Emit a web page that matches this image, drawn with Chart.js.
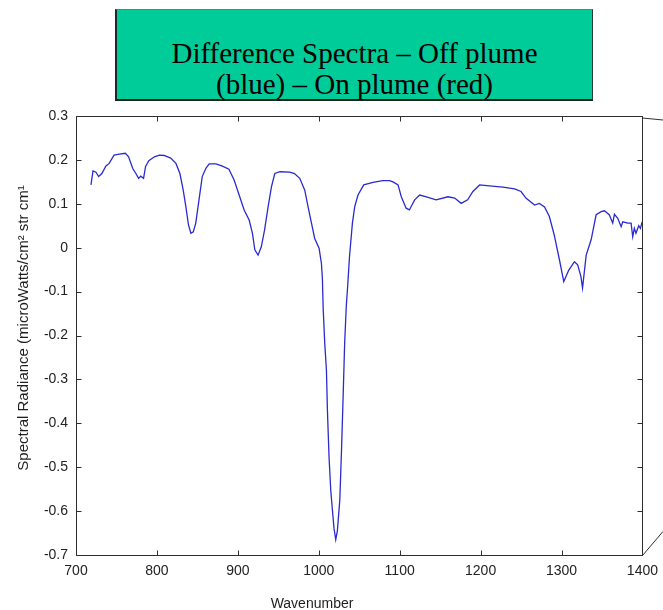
<!DOCTYPE html>
<html>
<head>
<meta charset="utf-8">
<script src="https://cdn.jsdelivr.net/npm/chart.js@4"></script>
<style>
  html, body { margin: 0; padding: 0; background: #fff; }
  #wrap { position: relative; width: 663px; height: 610px; }
  #titleBox {
    position: absolute; left: 115px; top: 9px; width: 478px; height: 92px;
    background: #00cc99;
    border-top: 1px solid #6a7a74; border-left: 2px solid #1b2b25;
    border-right: 1px solid #2a3a34; border-bottom: 2px solid #10241c;
    font-family: "Liberation Serif", "Times New Roman", serif; font-size: 29px;
    line-height: 31px; color: #000; text-align: center;
    box-sizing: border-box; padding-top: 28px;
  }
  canvas { position: absolute; left: 0; top: 0; }
</style>
</head>
<body>
<div id="wrap">
  <canvas id="c" width="663" height="610"></canvas>
  <div id="titleBox">Difference Spectra – Off plume<br>(blue) – On plume (red)</div>
</div>
<script>
const wavenumber = [
  718.5, 721, 724.7, 728, 732, 737, 741, 747, 753.5, 761, 765, 770, 774, 777.4, 780, 783.5,
  786, 790, 797, 803, 809, 817, 823.5, 828.4, 832.5, 835.8, 839, 842, 845, 848, 852, 856,
  860.5, 864.6, 873, 881, 889, 895.4, 901.6, 907.8, 914, 918, 921, 925, 929, 933, 937.4,
  941.6, 945.7, 952, 964, 970, 976.5, 982.7, 986.8, 991, 995, 1000.4, 1003.3, 1004.5,
  1005.5, 1007.4, 1009.5, 1010.7, 1012.7, 1014.8, 1016.9, 1018.9, 1021, 1023, 1026, 1028,
  1030, 1032, 1034, 1036, 1038, 1041.6, 1044.4, 1048.5, 1055.6, 1067, 1079, 1087.6,
  1091.7, 1098, 1102, 1108, 1112, 1118.5, 1124.7, 1133, 1145, 1159.6, 1168, 1176, 1184,
  1190.5, 1198.8, 1211, 1227.5, 1242, 1250, 1256, 1266.7, 1272.8, 1279, 1285, 1291,
  1297.5, 1302.8, 1309, 1316, 1320, 1324, 1326, 1330.5, 1336.6, 1342.8, 1349, 1353, 1359,
  1363.3, 1365.4, 1369.5, 1373.7, 1375.7, 1382, 1386, 1388, 1390, 1392, 1395.4, 1397.5, 1399.6
];
const radiance = [
  0.143, 0.175, 0.172, 0.162, 0.169, 0.186, 0.192, 0.211, 0.213, 0.215, 0.207, 0.181, 0.169, 0.158, 0.163, 0.158,
  0.185, 0.198, 0.207, 0.211, 0.210, 0.204, 0.192, 0.169, 0.131, 0.093, 0.052, 0.033, 0.036, 0.056, 0.109, 0.162,
  0.181, 0.191, 0.191, 0.186, 0.179, 0.154, 0.120, 0.086, 0.063, 0.033, -0.005, -0.017, 0.002, 0.040, 0.093,
  0.139, 0.169, 0.173, 0.172, 0.169, 0.158, 0.131, 0.093, 0.056, 0.021, -0.001, -0.036, -0.070,
  -0.140, -0.218, -0.279, -0.370, -0.476, -0.552, -0.598, -0.640, -0.665, -0.645, -0.575, -0.468,
  -0.347, -0.218, -0.134, -0.080, -0.020, 0.056, 0.093, 0.120, 0.143, 0.149, 0.153, 0.153,
  0.150, 0.143, 0.116, 0.090, 0.086, 0.109, 0.120, 0.116, 0.109, 0.116, 0.113, 0.101, 0.109,
  0.128, 0.143, 0.141, 0.138, 0.134, 0.128, 0.113, 0.097, 0.101, 0.093, 0.071, 0.029,
  -0.028, -0.077, -0.051, -0.032, -0.039, -0.066, -0.092, -0.017, 0.018, 0.075, 0.082, 0.084, 0.075,
  0.056, 0.076, 0.067, 0.048, 0.059, 0.056, 0.056, 0.025, 0.044, 0.033, 0.050, 0.044, 0.059
];
const xTicks = [700, 800, 900, 1000, 1100, 1200, 1300, 1400];
const yTicks = [0.3, 0.2, 0.1, 0, -0.1, -0.2, -0.3, -0.4, -0.5, -0.6, -0.7];
const yTickLabels = ['0.3', '0.2', '0.1', '0', '-0.1', '-0.2', '-0.3', '-0.4', '-0.5', '-0.6', '-0.7'];
const xTitle = 'Wavenumber';
const yTitle = 'Spectral Radiance (microWatts/cm\u00B2 str cm\u00B9';

const axisFont = '"Liberation Sans", Arial, sans-serif';

const framePlugin = {
  id: 'matlabFrame',
  afterDraw(chart) {
    const ctx = chart.ctx;
    const a = chart.chartArea;
    const xs = chart.scales.x, ys = chart.scales.y;
    const L = Math.round(a.left) + 0.5, R = Math.round(a.right) + 0.5;
    const T = Math.round(a.top) + 0.5, B = Math.round(a.bottom) + 0.5;
    ctx.save();
    ctx.strokeStyle = '#2e2e2e';
    ctx.lineWidth = 1;
    ctx.strokeRect(L, T, R - L, B - T);
    const tl = 5;
    ctx.beginPath();
    xTicks.forEach(v => {
      const px = Math.round(xs.getPixelForValue(v)) + 0.5;
      ctx.moveTo(px, B); ctx.lineTo(px, B - tl);
      ctx.moveTo(px, T); ctx.lineTo(px, T + tl);
    });
    yTicks.forEach(v => {
      const py = Math.round(ys.getPixelForValue(v)) + 0.5;
      ctx.moveTo(L, py); ctx.lineTo(L + tl, py);
      ctx.moveTo(R, py); ctx.lineTo(R - tl, py);
    });
    ctx.stroke();
    // perspective-like corner strokes at the right side
    ctx.beginPath();
    ctx.moveTo(R, T + 1.5); ctx.lineTo(chart.width, T + 3.5);
    ctx.moveTo(R, B); ctx.lineTo(chart.width, B - 24);
    ctx.stroke();
    // axis titles
    ctx.fillStyle = '#1e1e1e';
    ctx.font = '14px ' + axisFont;
    ctx.textAlign = 'center';
    ctx.textBaseline = 'alphabetic';
    ctx.fillText(xTitle, 312, 608);
    ctx.translate(28, 328);
    ctx.rotate(-Math.PI / 2);
    ctx.font = '15px ' + axisFont;
    ctx.fillText(yTitle, 0, 0);
    ctx.restore();
  }
};

new Chart(document.getElementById('c'), {
  type: 'line',
  data: {
    datasets: [{
      data: wavenumber.map((w, i) => ({ x: w, y: radiance[i] })),
      borderColor: '#2a2ad0',
      borderWidth: 1.3,
      pointRadius: 0,
      tension: 0,
      fill: false
    }]
  },
  options: {
    responsive: false,
    animation: false,
    devicePixelRatio: 1,
    layout: { padding: { top: 116, right: 20, left: 0, bottom: 0 } },
    plugins: { legend: { display: false }, title: { display: false }, tooltip: { enabled: false } },
    scales: {
      x: {
        type: 'linear', min: 700, max: 1400,
        afterFit(s) { s.height = 55; },
        afterBuildTicks(s) { s.ticks = xTicks.map(v => ({ value: v })); },
        ticks: {
          color: '#222', font: { family: axisFont, size: 14, lineHeight: 1.65 }, padding: 5,
          maxRotation: 0, autoSkip: false,
          callback: v => String(v)
        },
        grid: { display: false, drawTicks: false },
        border: { display: false }
      },
      y: {
        min: -0.7, max: 0.3,
        afterFit(s) { s.width = 76; },
        afterBuildTicks(s) { s.ticks = yTicks.map(v => ({ value: v })); },
        ticks: {
          color: '#222', font: { family: axisFont, size: 14 }, padding: 8,
          autoSkip: false,
          callback: (v) => {
            const i = yTicks.findIndex(t => Math.abs(t - v) < 1e-9);
            return i >= 0 ? yTickLabels[i] : '';
          }
        },
        grid: { display: false, drawTicks: false },
        border: { display: false }
      }
    }
  },
  plugins: [framePlugin]
});
</script>
</body>
</html>
